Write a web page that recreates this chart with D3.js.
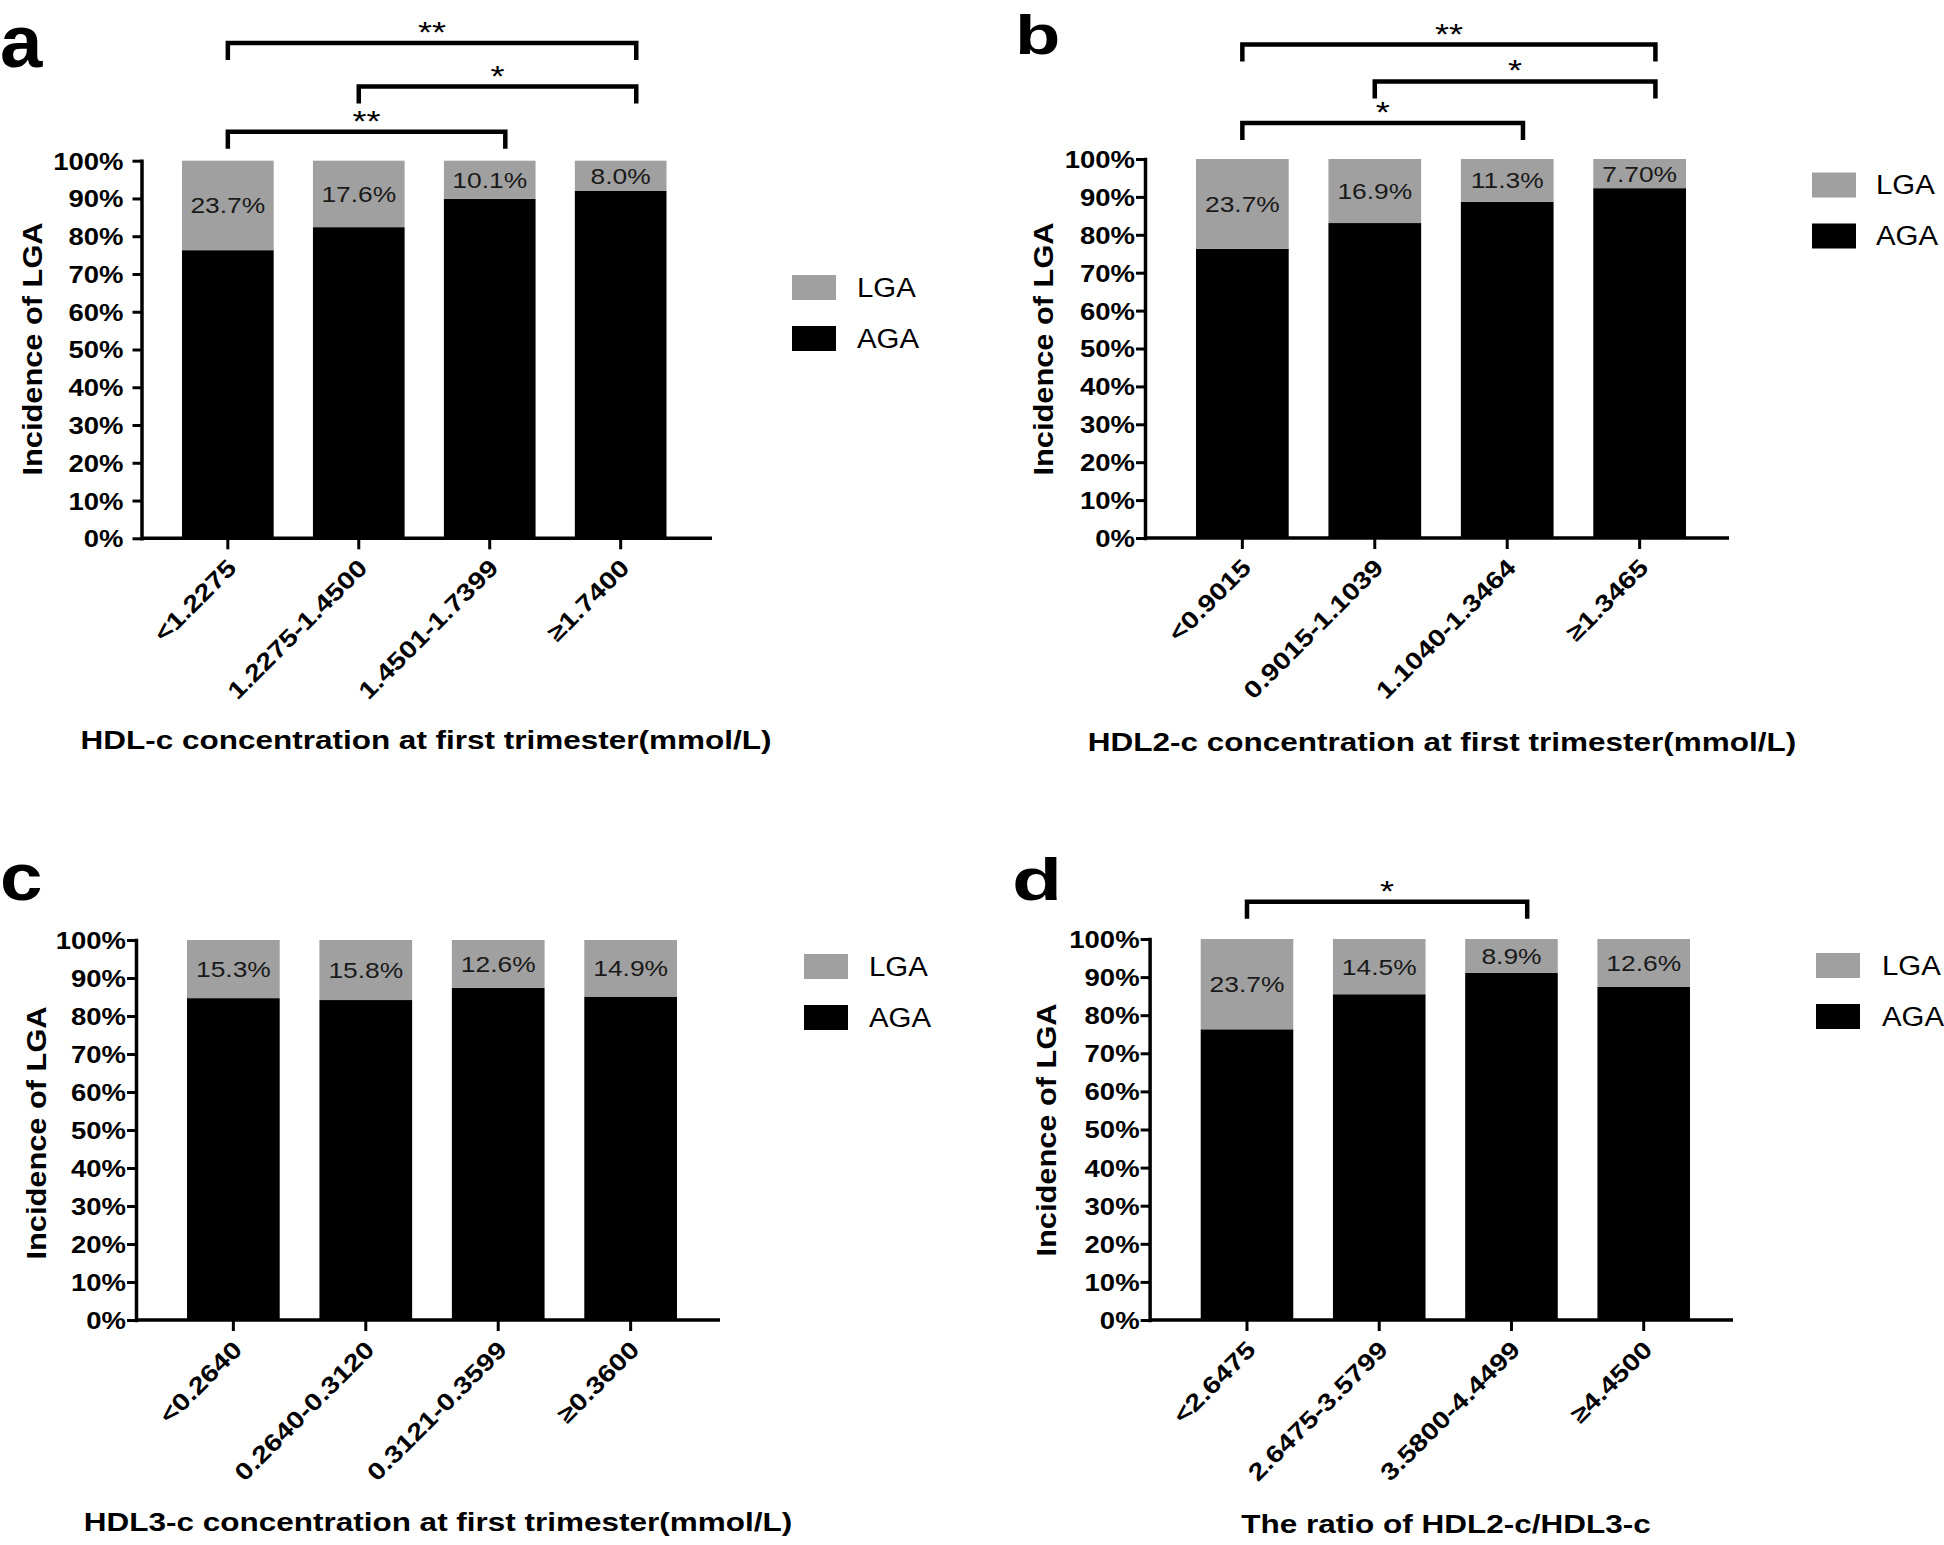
<!DOCTYPE html>
<html>
<head>
<meta charset="utf-8">
<script src="https://cdn.jsdelivr.net/npm/d3@7"></script>
<style>
  body { margin: 0; background: #fff; }
  svg { display: block; }
  text { font-family: "Liberation Sans", Arial, sans-serif; fill: #000; }
</style>
</head>
<body>
<svg id="chart" width="1944" height="1545"></svg>
<script>
// ---------------- DATA ----------------
const seriesNames = ["LGA", "AGA"];
const yTitle = "Incidence of LGA";
const yTickValues = [0, 10, 20, 30, 40, 50, 60, 70, 80, 90, 100];
const yTickLabels = ["0%", "10%", "20%", "30%", "40%", "50%", "60%", "70%", "80%", "90%", "100%"];

const catsA = ["<1.2275", "1.2275-1.4500", "1.4501-1.7399", "≥1.7400"];
const lgaA = [23.7, 17.6, 10.1, 8.0];
const agaA = [76.3, 82.4, 89.9, 92.0];
const labelsA = ["23.7%", "17.6%", "10.1%", "8.0%"];
const xTitleA = "HDL-c concentration at first trimester(mmol/L)";
const sigA = [{ from: 0, to: 3, mark: "**" }, { from: 1, to: 3, mark: "*" }, { from: 0, to: 2, mark: "**" }];

const catsB = ["<0.9015", "0.9015-1.1039", "1.1040-1.3464", "≥1.3465"];
const lgaB = [23.7, 16.9, 11.3, 7.70];
const agaB = [76.3, 83.1, 88.7, 92.3];
const labelsB = ["23.7%", "16.9%", "11.3%", "7.70%"];
const xTitleB = "HDL2-c concentration at first trimester(mmol/L)";
const sigB = [{ from: 0, to: 3, mark: "**" }, { from: 1, to: 3, mark: "*" }, { from: 0, to: 2, mark: "*" }];

const catsC = ["<0.2640", "0.2640-0.3120", "0.3121-0.3599", "≥0.3600"];
const lgaC = [15.3, 15.8, 12.6, 14.9];
const agaC = [84.7, 84.2, 87.4, 85.1];
const labelsC = ["15.3%", "15.8%", "12.6%", "14.9%"];
const xTitleC = "HDL3-c concentration at first trimester(mmol/L)";
const sigC = [];

const catsD = ["<2.6475", "2.6475-3.5799", "3.5800-4.4499", "≥4.4500"];
const lgaD = [23.7, 14.5, 8.9, 12.6];
const agaD = [76.3, 85.5, 91.1, 87.4];
const labelsD = ["23.7%", "14.5%", "8.9%", "12.6%"];
const xTitleD = "The ratio of HDL2-c/HDL3-c";
const sigD = [{ from: 0, to: 2, mark: "*" }];

// ---------------- LAYOUT (positions & styles) ----------------
const colors = { LGA: "#a0a0a0", AGA: "#000000" };
const layoutA = { axisX: 141.5, axisEnd: 712, barStart: 182, barEnd: 666.5, top: 160.7, bottom: 538.3, labGap: 18,
  yTitleX: 42, yTitleY: 349, xTitleX: 426, xTitleY: 749, legX: 792, legY: 275, legTextX: 857,
  letter: { x: 0, y: 67, size: 74, sx: 1.03 }, sigY: [43, 86.5, 131.7] };
const layoutB = { axisX: 1145, axisEnd: 1729, barStart: 1196, barEnd: 1686, top: 159, bottom: 538, labGap: 10,
  yTitleX: 1053, yTitleY: 349, xTitleX: 1442, xTitleY: 751, legX: 1812, legY: 172.5, legTextX: 1876,
  letter: { x: 1015, y: 53.6, size: 55, sx: 1.35 }, sigY: [44.6, 81.4, 123] };
const layoutC = { axisX: 136, axisEnd: 720, barStart: 187, barEnd: 677, top: 940, bottom: 1320, labGap: 10,
  yTitleX: 46, yTitleY: 1133, xTitleX: 438, xTitleY: 1531, legX: 804, legY: 954, legTextX: 869,
  letter: { x: 0, y: 900, size: 67, sx: 1.14 }, sigY: [] };
const layoutD = { axisX: 1149.6, axisEnd: 1733, barStart: 1200.7, barEnd: 1690, top: 939, bottom: 1320, labGap: 10,
  yTitleX: 1056, yTitleY: 1130, xTitleX: 1446, xTitleY: 1533, legX: 1816, legY: 953, legTextX: 1882,
  letter: { x: 1012, y: 900, size: 59, sx: 1.39 }, sigY: [901.7] };

const panels = [
  { letter: "a", cats: catsA, lga: lgaA, aga: agaA, labels: labelsA, xTitle: xTitleA, sig: sigA, L: layoutA },
  { letter: "b", cats: catsB, lga: lgaB, aga: agaB, labels: labelsB, xTitle: xTitleB, sig: sigB, L: layoutB },
  { letter: "c", cats: catsC, lga: lgaC, aga: agaC, labels: labelsC, xTitle: xTitleC, sig: sigC, L: layoutC },
  { letter: "d", cats: catsD, lga: lgaD, aga: agaD, labels: labelsD, xTitle: xTitleD, sig: sigD, L: layoutD }
];

const svg = d3.select("#chart");

function sText(parent, x, y, str, o) {
  return parent.append("text")
    .attr("transform", `translate(${x},${y})` + (o.rotate ? ` rotate(${o.rotate})` : "") + ` scale(${o.sx || 1},1)`)
    .attr("text-anchor", o.anchor || "start")
    .attr("dy", o.dy || null)
    .style("font-size", o.size + "px")
    .style("font-weight", o.weight || "normal")
    .text(str);
}

panels.forEach(p => {
  const L = p.L;
  const g = svg.append("g");
  const y = d3.scaleLinear().domain([0, 100]).range([L.bottom, L.top]);
  const x = d3.scaleBand().domain(p.cats).range([L.barStart, L.barEnd]).paddingInner(0.3).paddingOuter(0);
  const bw = x.bandwidth();

  // stacked bars
  const rows = p.cats.map((c, i) => ({ cat: c, AGA: p.aga[i], LGA: p.lga[i] }));
  const stacked = d3.stack().keys(["AGA", "LGA"])(rows);
  g.selectAll("g.layer").data(stacked).join("g")
    .attr("fill", d => colors[d.key])
    .selectAll("rect").data(d => d).join("rect")
    .attr("x", d => x(d.data.cat))
    .attr("width", bw)
    .attr("y", d => y(d[1]))
    .attr("height", d => y(d[0]) - y(d[1]));

  // value labels in the LGA segment
  const lgaLayer = stacked[1];
  lgaLayer.forEach((d, i) => {
    const cy = (y(d[0]) + y(d[1])) / 2;
    sText(g, x(d.data.cat) + bw / 2, cy, p.labels[i], { size: 22, sx: 1.2, anchor: "middle", dy: "0.36em" })
      .style("fill", "#1a1a1a");
  });

  // Y axis
  const yAxis = d3.axisLeft(y).tickValues(yTickValues)
    .tickFormat((d, i) => yTickLabels[i]).tickSize(9).tickSizeOuter(0);
  const ya = g.append("g").attr("transform", `translate(${L.axisX},0)`).call(yAxis);
  ya.select(".domain").attr("stroke", "#000").attr("stroke-width", 3.5).attr("stroke-linecap", "square");
  ya.selectAll(".tick line").attr("stroke", "#000").attr("stroke-width", 3);
  ya.selectAll(".tick text")
    .attr("x", null).attr("dy", "0.36em")
    .attr("transform", `translate(${-L.labGap},0) scale(1.17,1)`)
    .style("font-size", "23.5px").style("font-weight", "bold")
    .style("font-family", "'Liberation Sans', Arial, sans-serif").attr("fill", "#000");

  // X axis
  const xAxis = d3.axisBottom(x).tickSize(11).tickSizeOuter(0).tickFormat("");
  const xa = g.append("g").attr("transform", `translate(0,${L.bottom})`).call(xAxis);
  xa.select(".domain").remove();
  xa.selectAll(".tick line").attr("stroke", "#000").attr("stroke-width", 3);
  g.append("line")
    .attr("x1", L.axisX).attr("x2", L.axisEnd)
    .attr("y1", L.bottom).attr("y2", L.bottom)
    .attr("stroke", "#000").attr("stroke-width", 3.5);

  // rotated category labels
  p.cats.forEach(c => {
    const cx = x(c) + bw / 2;
    sText(g, cx + 4, L.bottom + 25, c, { size: 24, sx: 1.2, weight: "bold", anchor: "end", rotate: -45, dy: "0.36em" });
  });

  // titles
  sText(g, L.xTitleX, L.xTitleY, p.xTitle, { size: 25, sx: 1.26, weight: "bold", anchor: "middle" });
  sText(g, L.yTitleX, L.yTitleY, yTitle, { size: 28, sx: 1.1, weight: "bold", anchor: "middle", rotate: -90 });

  // panel letter
  sText(g, L.letter.x, L.letter.y, p.letter, { size: L.letter.size, sx: L.letter.sx, weight: "bold" });

  // legend
  seriesNames.forEach((s, i) => {
    const ly = L.legY + i * 51;
    g.append("rect").attr("x", L.legX).attr("y", ly).attr("width", 44).attr("height", 25).attr("fill", colors[s]);
    sText(g, L.legTextX, ly + 21.7, s, { size: 28, sx: 1.05 });
  });

  // significance brackets
  p.sig.forEach((s, i) => {
    const by = L.sigY[i];
    const x1 = x(p.cats[s.from]) + bw / 2;
    const x2 = x(p.cats[s.to]) + bw / 2 + bw * 0.17;
    g.append("path")
      .attr("d", `M${x1},${by + 17} V${by} H${x2} V${by + 17}`)
      .attr("fill", "none").attr("stroke", "#000").attr("stroke-width", 4.5);
    sText(g, (x1 + x2) / 2, by - 1, s.mark, { size: 30, sx: 1.2, anchor: "middle" });
  });
});
</script>
</body>
</html>
